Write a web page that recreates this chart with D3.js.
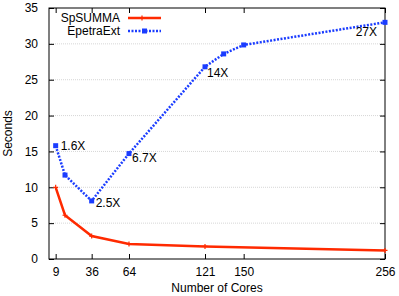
<!DOCTYPE html>
<html>
<head>
<meta charset="utf-8">
<script src="https://cdn.jsdelivr.net/npm/d3@7"></script>
<style>
body { margin: 0; background: #fff; }
text { font-family: "Liberation Sans", Arial, sans-serif; }
</style>
</head>
<body>
<svg width="399" height="296"></svg>
<script>
var svg = d3.select("svg");

// data
var spCores = [9, 16, 36, 64, 121, 256];
var spSeconds = [10.0, 6.1, 3.2, 2.1, 1.75, 1.2];
var epCores = [9, 16, 36, 64, 121, 135, 150, 256];
var epSeconds = [15.8, 11.7, 8.1, 14.7, 26.8, 28.6, 29.85, 33.0];
var xTicks = [9, 36, 64, 121, 150, 256];
var yTicks = [0, 5, 10, 15, 20, 25, 30, 35];
var speedups = [
    {cores: 9, secs: 15.8, label: "1.6X", anchor: "start", dx: 5, dy: 4},
    {cores: 36, secs: 8.1, label: "2.5X", anchor: "start", dx: 4, dy: 6},
    {cores: 64, secs: 14.7, label: "6.7X", anchor: "start", dx: 3, dy: 8},
    {cores: 121, secs: 26.8, label: "14X", anchor: "start", dx: 2, dy: 10},
    {cores: 256, secs: 33.0, label: "27X", anchor: "end", dx: -8, dy: 14}
];

var fontSize = 12;
var plotL = 49, plotR = 385, plotT = 8, plotB = 259;

var x = d3.scaleLinear().domain([4, 256]).range([plotL, plotR]);
var y = d3.scaleLinear().domain([0, 35]).range([plotB, plotT]);

// grid
svg.append("g")
    .selectAll("line")
    .data(yTicks.filter(function (d) { return d > 0 && d < 35; }))
    .enter().append("line")
    .attr("x1", plotL).attr("x2", plotR)
    .attr("y1", function (d) { return y(d); })
    .attr("y2", function (d) { return y(d); })
    .attr("stroke", "#bbb")
    .attr("stroke-width", 0.6)
    .attr("stroke-dasharray", "1,1");

function styleAxis(g) {
    g.select(".domain").remove();
    g.selectAll(".tick line").attr("stroke", "#000");
    g.selectAll(".tick text").attr("font-size", fontSize).attr("fill", "#000")
        .attr("font-family", "Liberation Sans, Arial, sans-serif");
}

svg.append("g")
    .attr("transform", "translate(0," + plotB + ")")
    .call(d3.axisBottom(x).tickValues(xTicks).tickSize(-5).tickPadding(8))
    .call(styleAxis);
svg.append("g")
    .attr("transform", "translate(0," + plotT + ")")
    .call(d3.axisTop(x).tickValues(xTicks).tickSize(-5).tickFormat(""))
    .call(styleAxis);
svg.append("g")
    .attr("transform", "translate(" + plotL + ",0)")
    .call(d3.axisLeft(y).tickValues(yTicks).tickSize(-5).tickPadding(11))
    .call(styleAxis);
svg.append("g")
    .attr("transform", "translate(" + plotR + ",0)")
    .call(d3.axisRight(y).tickValues(yTicks).tickSize(-5).tickFormat(""))
    .call(styleAxis);

svg.append("rect")
    .attr("x", plotL).attr("y", plotT)
    .attr("width", plotR - plotL).attr("height", plotB - plotT)
    .attr("fill", "none").attr("stroke", "#000").attr("stroke-width", 1);

var line = d3.line()
    .x(function (d) { return x(d[0]); })
    .y(function (d) { return y(d[1]); });

var spData = d3.zip(spCores, spSeconds);
var epData = d3.zip(epCores, epSeconds);

svg.append("path")
    .datum(spData)
    .attr("d", line)
    .attr("fill", "none")
    .attr("stroke", "#ff2a00")
    .attr("stroke-width", 2.5);

svg.append("g")
    .selectAll("path")
    .data(spData)
    .enter().append("path")
    .attr("d", function (d) {
        var px = x(d[0]), py = y(d[1]);
        return "M" + (px - 2.5) + "," + py + "h5M" + px + "," + (py - 2.5) + "v5";
    })
    .attr("stroke", "#ff2a00")
    .attr("stroke-width", 1.2);

svg.append("path")
    .datum(epData)
    .attr("d", line)
    .attr("fill", "none")
    .attr("stroke", "#1a3cff")
    .attr("stroke-width", 2.5)
    .attr("stroke-dasharray", "2,1.5");

svg.append("g")
    .selectAll("rect")
    .data(epData)
    .enter().append("rect")
    .attr("x", function (d) { return x(d[0]) - 2.5; })
    .attr("y", function (d) { return y(d[1]) - 2.5; })
    .attr("width", 5).attr("height", 5)
    .attr("fill", "#1a3cff");

svg.append("g")
    .selectAll("text")
    .data(speedups)
    .enter().append("text")
    .attr("x", function (d) { return x(d.cores) + d.dx; })
    .attr("y", function (d) { return y(d.secs) + d.dy; })
    .attr("text-anchor", function (d) { return d.anchor; })
    .attr("font-size", fontSize)
    .text(function (d) { return d.label; });

// legend
var legend = svg.append("g");
legend.append("text").attr("x", 120).attr("y", 22).attr("text-anchor", "end")
    .attr("font-size", fontSize).text("SpSUMMA");
legend.append("line").attr("x1", 128).attr("x2", 161).attr("y1", 18).attr("y2", 18)
    .attr("stroke", "#ff2a00").attr("stroke-width", 2.5);
legend.append("path").attr("d", "M142,15.5v5M139.5,18h5")
    .attr("stroke", "#ff2a00").attr("stroke-width", 1.2);
legend.append("text").attr("x", 120).attr("y", 35).attr("text-anchor", "end")
    .attr("font-size", fontSize).text("EpetraExt");
legend.append("line").attr("x1", 128).attr("x2", 161).attr("y1", 31).attr("y2", 31)
    .attr("stroke", "#1a3cff").attr("stroke-width", 2.5).attr("stroke-dasharray", "2,1.5");
legend.append("rect").attr("x", 142).attr("y", 28.5).attr("width", 5).attr("height", 5)
    .attr("fill", "#1a3cff");

svg.append("text")
    .attr("x", (plotL + plotR) / 2).attr("y", 292)
    .attr("text-anchor", "middle").attr("font-size", fontSize)
    .text("Number of Cores");
svg.append("text")
    .attr("transform", "translate(12," + ((plotT + plotB) / 2) + ") rotate(-90)")
    .attr("text-anchor", "middle").attr("font-size", fontSize)
    .text("Seconds");
</script>
</body>
</html>
